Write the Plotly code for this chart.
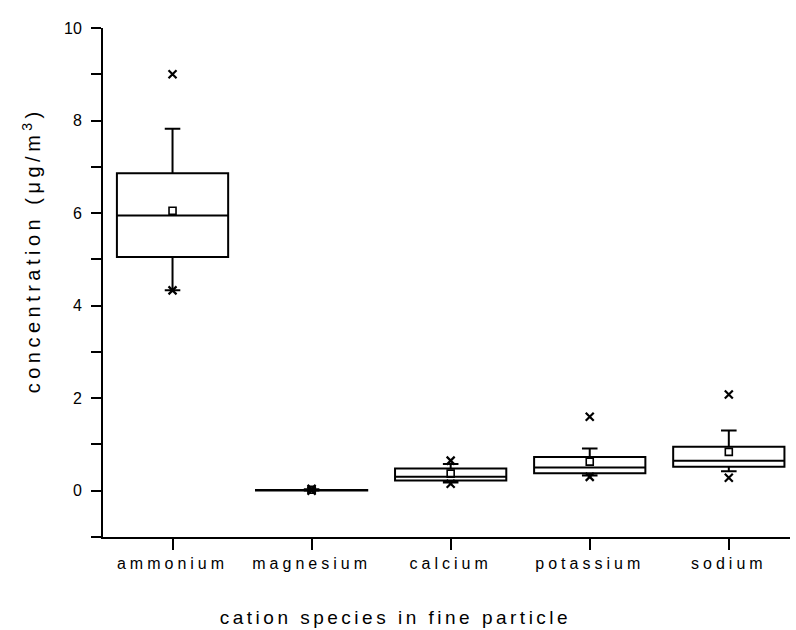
import plotly.graph_objects as go

# Cation concentrations in fine particles (ug/m3): box statistics per species
species = ["ammonium", "magnesium", "calcium", "potassium", "sodium"]
lower_whisker = [4.33, 0.000, 0.18, 0.33, 0.42]
q1 = [5.05, 0.005, 0.22, 0.38, 0.52]
median = [5.95, 0.010, 0.30, 0.50, 0.65]
q3 = [6.86, 0.015, 0.48, 0.73, 0.95]
upper_whisker = [7.82, 0.030, 0.58, 0.91, 1.30]
mean = [6.05, 0.020, 0.37, 0.63, 0.84]
minimum = [4.33, 0.000, 0.15, 0.30, 0.28]
maximum = [9.00, 0.040, 0.65, 1.60, 2.08]

y_ticks = [0, 2, 4, 6, 8, 10]

FONT = "Liberation Sans, Arial, sans-serif"

fig = go.Figure()

fig.add_trace(go.Box(
    x=species,
    q1=q1, median=median, q3=q3,
    lowerfence=lower_whisker, upperfence=upper_whisker,
    width=0.8, whiskerwidth=0.14,
    fillcolor="rgba(0,0,0,0)",
    line=dict(color="black", width=2),
    boxpoints=False, hoverinfo="skip", showlegend=False,
))

# mean values as open squares
fig.add_trace(go.Scatter(
    x=species, y=mean, mode="markers", showlegend=False,
    marker=dict(symbol="square-open", size=7, color="black",
                line=dict(color="black", width=1.6)),
))

# extreme values as crosses
for vals in (minimum, maximum):
    fig.add_trace(go.Scatter(
        x=species, y=vals, mode="markers", showlegend=False,
        marker=dict(symbol="x-thin", size=8, color="black",
                    line=dict(color="black", width=2.2)),
    ))

fig.update_layout(
    width=796, height=630,
    margin=dict(l=103, r=6, t=28, b=93),
    paper_bgcolor="white", plot_bgcolor="white",
    font=dict(family=FONT, color="black", size=16),
    xaxis=dict(
        type="category", range=[-0.5, 4.44],
        showline=True, linecolor="black", linewidth=2,
        ticks="outside", ticklen=11, tickwidth=2, tickcolor="black",
        tickfont=dict(size=16), showgrid=False, zeroline=False,
    ),
    yaxis=dict(
        range=[-1, 10], tickvals=y_ticks,
        showline=True, linecolor="black", linewidth=2,
        ticks="outside", ticklen=10, tickwidth=2, tickcolor="black",
        ticklabelstandoff=6,
        minor=dict(dtick=1, tick0=0, ticks="outside", ticklen=10,
                   tickwidth=2, tickcolor="black", showgrid=False),
        tickfont=dict(size=16), showgrid=False, zeroline=False,
    ),
    annotations=[
        dict(text="concentration (\u03bcg/m<sup>3</sup>)", textangle=-90,
             xref="paper", x=0, xanchor="center", xshift=-72,
             yref="y", y=5.2, yanchor="middle",
             showarrow=False, font=dict(size=20)),
        dict(text="cation species in fine particle",
             xref="x", x=1.6, xanchor="center",
             yref="paper", y=0, yanchor="middle", yshift=-80,
             showarrow=False, font=dict(size=19)),
    ],
)

# wide letter spacing on category labels and axis titles
spacing_js = """
var gd = document.getElementById('{plot_id}');
gd.querySelectorAll('.xtick text').forEach(function(t){ t.setAttribute('letter-spacing', '4px'); });
var titles = gd.querySelectorAll('.annotation-text');
if (titles.length > 0) { titles[0].setAttribute('letter-spacing', '4.5px'); }
if (titles.length > 1) { titles[1].setAttribute('letter-spacing', '3.5px'); }
"""

fig.write_html("out.html", post_script=spacing_js)
